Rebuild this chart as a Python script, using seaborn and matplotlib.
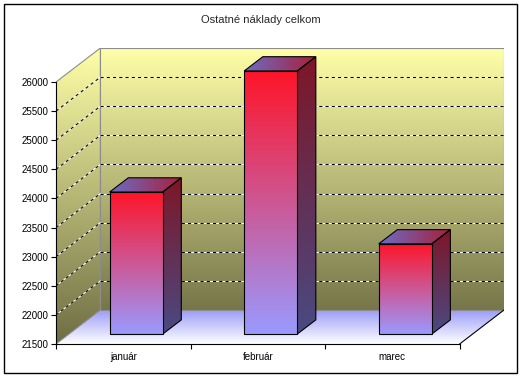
import numpy as np
import pandas as pd
import seaborn as sns
import matplotlib
matplotlib.use("Agg")
from matplotlib import pyplot as plt
from matplotlib.patches import Polygon, Rectangle
from matplotlib.colors import LinearSegmentedColormap

# data
months = ["január", "február", "marec"]
costs = [23940, 26020, 23050]
y_ticks = list(range(21500, 26001, 500))
title = "Ostatné náklady celkom"

sns.set_style("white")
plt.rcParams["font.family"] = ["Liberation Sans", "DejaVu Sans"]

W, H = 521, 378
BASE = 21500
TOP = 26000
DX, DY = 0.33, 584          # depth of the 3d box (data units)
BAR_F, BAR_B = 0.29, 0.71   # bar front / back as fraction of box depth
BAR_W = 0.394


def grad_fill(ax, verts, c_a, c_b, zorder, horizontal=False):
    """fill polygon with linear gradient, c_a at bottom/left, c_b at top/right"""
    poly = Polygon(verts, closed=True, facecolor="none", edgecolor="none", zorder=zorder)
    ax.add_patch(poly)
    xs = [v[0] for v in verts]
    ys = [v[1] for v in verts]
    cmap = LinearSegmentedColormap.from_list("g", [c_a, c_b])
    g = np.linspace(0, 1, 256)
    g = g.reshape(1, -1) if horizontal else g.reshape(-1, 1)
    im = ax.imshow(g, cmap=cmap, extent=(min(xs), max(xs), min(ys), max(ys)),
                   origin="lower", aspect="auto", zorder=zorder, interpolation="bilinear")
    im.set_clip_path(poly)
    return poly


def outline(ax, verts, color, lw, zorder):
    ax.add_patch(Polygon(verts, closed=True, facecolor="none", edgecolor=color,
                         lw=lw, zorder=zorder, joinstyle="miter"))


fig = plt.figure(figsize=(W / 100, H / 100), dpi=100)
ax = fig.add_axes([56 / W, (H - 344) / H, (504 - 56) / W, (344 - 48) / H])

df = pd.DataFrame({"month": months, "cost": costs})
sns.barplot(data=df, x="month", y="cost", ax=ax, width=BAR_W, color="white")
bars = list(ax.patches)

# walls and floor
x0, x1 = -0.5, 2.5
back = [(x0 + DX, BASE + DY), (x1 + DX, BASE + DY), (x1 + DX, TOP + DY), (x0 + DX, TOP + DY)]
side = [(x0, BASE), (x0 + DX, BASE + DY), (x0 + DX, TOP + DY), (x0, TOP)]
floor = [(x0, BASE), (x1, BASE), (x1 + DX, BASE + DY), (x0 + DX, BASE + DY)]
grad_fill(ax, back, "#76764a", "#ffffa8", 1)
grad_fill(ax, side, "#6e6e44", "#ffffa8", 1)
grad_fill(ax, floor, "#ffffff", "#9a9af8", 1)
outline(ax, back, "#8c8c8c", 0.8, 1.5)
outline(ax, side, "#8c8c8c", 0.8, 1.5)
ax.plot([x1, x1 + DX], [BASE, BASE + DY], color="black", lw=0.8, zorder=2)

# gridlines
for v in y_ticks[1:-1]:
    for col, ls in (("white", "-"), ("black", (0, (3, 3)))):
        ax.plot([x0 + DX, x1 + DX], [v + DY, v + DY], color=col, ls=ls, lw=0.75, zorder=2)
        ax.plot([x0, x0 + DX], [v, v + DY], color=col, ls=ls, lw=0.75, zorder=2)

# bars
bdx, bdy = (BAR_B - BAR_F) * DX, (BAR_B - BAR_F) * DY
for i, (p, v) in enumerate(zip(bars, costs)):
    xl = i - BAR_W / 2 + BAR_F * DX
    xr = xl + BAR_W
    yb = BASE + BAR_F * DY
    yt = v + BAR_F * DY
    p.set_x(xl)
    p.set_y(yb)
    p.set_height(yt - yb)
    p.set_facecolor("none")
    p.set_edgecolor("black")
    p.set_linewidth(0.8)
    p.set_zorder(5)
    sface = [(xr, yb), (xr + bdx, yb + bdy), (xr + bdx, yt + bdy), (xr, yt)]
    tface = [(xl, yt), (xr, yt), (xr + bdx, yt + bdy), (xl + bdx, yt + bdy)]
    grad_fill(ax, sface, "#4a4a82", "#7e1628", 3)
    outline(ax, sface, "black", 0.8, 3.5)
    grad_fill(ax, tface, "#6c6cc4", "#a8203c", 3, horizontal=True)
    outline(ax, tface, "black", 0.8, 3.5)
    front = ax.imshow(np.linspace(0, 1, 256).reshape(-1, 1),
                      cmap=LinearSegmentedColormap.from_list("f", ["#9a9aff", "#ff1428"]),
                      extent=(xl, xr, yb, yt), origin="lower", aspect="auto",
                      zorder=4, interpolation="bilinear")
    front.set_clip_path(p)

# axes
ax.set_xlim(x0, x1 + DX)
ax.set_ylim(BASE, TOP + DY)
ax.set_xlabel("")
ax.set_ylabel("")
ax.set_yticks(y_ticks)
ax.set_yticklabels([str(t) for t in y_ticks])
ax.set_xticks(range(len(months)))
ax.set_xticklabels(months)
ax.set_xticks([-0.5, 0.5, 1.5, 2.5], minor=True)
ax.tick_params(axis="both", which="both", bottom=True, left=True, labelsize=7,
               colors="black", width=0.8)
ax.tick_params(axis="x", which="major", length=0, pad=6)
ax.tick_params(axis="x", which="minor", length=3.6, direction="out")
ax.tick_params(axis="y", length=3.6, direction="out", pad=1.5)
for s in ("top", "right"):
    ax.spines[s].set_visible(False)
ax.spines["left"].set_bounds(BASE, TOP)
ax.spines["bottom"].set_bounds(x0, x1)
for s in ("left", "bottom"):
    ax.spines[s].set_color("black")
    ax.spines[s].set_linewidth(0.8)
    ax.spines[s].set_zorder(6)
ax.patch.set_alpha(0)

fig.text(261 / W, 1 - 20 / H, title, ha="center", va="center", fontsize=8)
fig.patches.append(Rectangle((4 / W, 5 / H), 513 / W, 369 / H, transform=fig.transFigure,
                             fill=False, edgecolor="black", lw=1))

fig.savefig("out.png", dpi=100)
